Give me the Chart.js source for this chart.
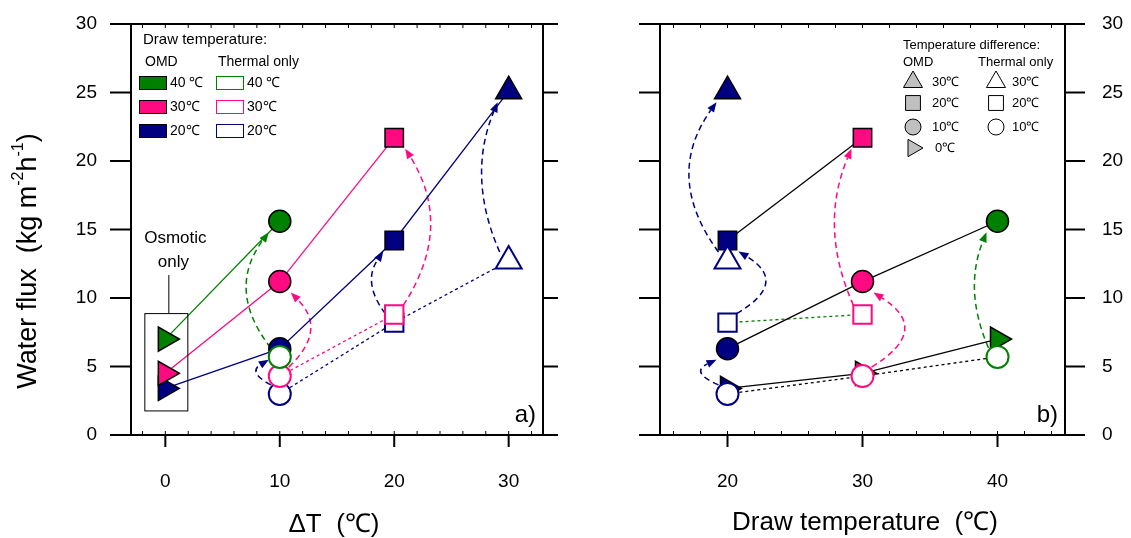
<!DOCTYPE html>
<html>
<head>
<meta charset="utf-8">
<script src="https://cdn.jsdelivr.net/npm/chart.js@4.4.1/dist/chart.umd.min.js"></script>
<style>
  html, body { margin: 0; padding: 0; background: #fff; }
  #wrap { position: relative; width: 1131px; height: 538px; }
  #wrap canvas { position: absolute; top: 0; }
</style>
</head>
<body>
<div id="wrap">
  <canvas id="chartA" width="565" height="538" style="left:0;width:565px;height:538px"></canvas>
  <canvas id="chartB" width="566" height="538" style="left:565px;width:566px;height:538px"></canvas>
</div>
<script>
// water flux (kg m-2 h-1); columns follow deltaT, rows follow draw temperature
const deltaT = [0, 10, 20, 30];
const drawTemps = [40, 30, 20];
const omd40 = [7.0, 15.6, null, null];
const omd30 = [4.5, 11.2, 21.7, null];
const omd20 = [3.4, 6.3, 14.2, 25.1];
const thermal40 = [null, 5.7, null, null];
const thermal30 = [null, 4.3, 8.8, null];
const thermal20 = [null, 3.0, 8.2, 12.7];
const xTicksA = [0, 10, 20, 30];
const xTicksB = [20, 30, 40];
const yTicks = [0, 5, 10, 15, 20, 25, 30];
const drawTempLabels = ['40 ℃', '30℃', '20℃'];
const diffKeys = [30, 20, 10, 0];
const diffLabels = ['30℃', '20℃', '10℃', '0℃'];

const omdRows = [omd40, omd30, omd20];
const thermalRows = [thermal40, thermal30, thermal20];
const FONT = '"Liberation Sans", Arial, sans-serif';
const COLORS = { 40: '#008000', 30: '#ff0a80', 20: '#000080' };
const SHAPES = {
  0: { style: 'triangle', r: 14, rot: 90 },
  10: { style: 'circle', r: 11, rot: 0 },
  20: { style: 'rect', r: 13, rot: 0 },
  30: { style: 'triangle', r: 15, rot: 0 }
};
const LEGEND_SHAPES = {
  30: { style: 'triangle', r: 11, rot: 0 },
  20: { style: 'rect', r: 10.5, rot: 0 },
  10: { style: 'circle', r: 8, rot: 0 },
  0: { style: 'triangle', r: 10, rot: 90 }
};
// how far each dashed arrow bows out (px, sign = side), keyed "drawT-deltaT"
const BEND_A = { '40-10': -32, '30-10': 29, '20-10': -21, '30-20': 35, '20-20': -21, '20-30': -26 };
const BEND_B = { '20-30': -37, '20-20': 36, '20-10': -24, '30-20': -27, '30-10': 40, '40-10': -22 };

function pts(row, t, panel) {
  const out = [];
  row.forEach((v, i) => {
    if (v !== null) out.push({ x: panel === 'a' ? deltaT[i] : t, y: v, dt: deltaT[i], t: t });
  });
  return out;
}

function lineSet(data, color, dash) {
  return { data, showLine: true, borderColor: color, borderWidth: 1.3, borderDash: dash,
    pointRadius: 0, fill: false, order: 20 };
}

function markerSet(data, open, order) {
  return {
    data, showLine: false, order,
    pointStyle: data.map(p => SHAPES[p.dt].style),
    pointRadius: data.map(p => SHAPES[p.dt].r),
    pointRotation: data.map(p => SHAPES[p.dt].rot),
    pointBackgroundColor: data.map(p => open ? '#fff' : COLORS[p.t]),
    pointBorderColor: data.map(p => open ? COLORS[p.t] : '#000'),
    pointBorderWidth: open ? 2 : 1.5
  };
}

function datasets(panel) {
  const ds = [];
  if (panel === 'a') {
    drawTemps.forEach((t, k) => {
      ds.push(lineSet(pts(omdRows[k], t, 'a'), COLORS[t], []));
      const th = pts(thermalRows[k], t, 'a');
      if (th.length > 1) ds.push(lineSet(th, COLORS[t], [3, 3]));
    });
  } else {
    deltaT.forEach((dt, i) => {
      const o = [], th = [];
      drawTemps.forEach((t, k) => {
        if (omdRows[k][i] !== null) o.push({ x: t, y: omdRows[k][i] });
        if (thermalRows[k][i] !== null) th.push({ x: t, y: thermalRows[k][i] });
      });
      o.sort((p, q) => p.x - q.x);
      th.sort((p, q) => p.x - q.x);
      if (o.length > 1) ds.push(lineSet(o, '#000', []));
      if (th.length > 1) ds.push(lineSet(th, dt === 20 ? COLORS[40] : '#000', [3, 3]));
    });
  }
  drawTemps.forEach((t, k) => ds.push(markerSet(pts(omdRows[k], t, panel), false, 10 + k)));
  drawTemps.forEach((t, k) => ds.push(markerSet(pts(thermalRows[k], t, panel), true, k)));
  return ds;
}

function seg(ctx, x1, y1, x2, y2) {
  ctx.beginPath(); ctx.moveTo(x1, y1); ctx.lineTo(x2, y2); ctx.stroke();
}

function text(ctx, s, x, y, size, align) {
  ctx.font = size + 'px ' + FONT;
  ctx.fillStyle = '#000';
  ctx.textAlign = align || 'left';
  ctx.textBaseline = 'middle';
  ctx.fillText(s, x, y);
}

function drawArrow(ctx, x, y0, y1, bend, color) {
  const side = Math.sign(bend);
  const sx = x + side * 9, sy = y0 - 9;
  const ex = x + side * 11, ey = y1 + 11;
  const cx = 2 * (x + bend) - (sx + ex) / 2, cy = (sy + ey) / 2;
  const ang = Math.atan2(ey - cy, ex - cx);
  const hl = 10, hw = 4;
  const bx = ex - hl * Math.cos(ang), by = ey - hl * Math.sin(ang);
  ctx.save();
  ctx.strokeStyle = color; ctx.fillStyle = color; ctx.lineWidth = 1.5;
  ctx.setLineDash([6, 4]);
  ctx.beginPath(); ctx.moveTo(sx, sy); ctx.quadraticCurveTo(cx, cy, bx, by); ctx.stroke();
  ctx.setLineDash([]);
  ctx.beginPath();
  ctx.moveTo(ex, ey);
  ctx.lineTo(bx + hw * Math.sin(ang), by - hw * Math.cos(ang));
  ctx.lineTo(bx - hw * Math.sin(ang), by + hw * Math.cos(ang));
  ctx.closePath(); ctx.fill();
  ctx.restore();
}

function marker(ctx, shape, x, y, fill) {
  ctx.fillStyle = fill; ctx.strokeStyle = '#000'; ctx.lineWidth = 1;
  Chart.helpers.drawPoint(ctx, { pointStyle: shape.style, radius: shape.r, rotation: shape.rot, borderWidth: 1 }, x, y);
}

function yTitle(ctx, cx, cy) {
  const parts = [['Water flux  (kg m', 0], ['-2', 1], ['h', 0], ['-1', 1], [')', 0]];
  const big = '27px ' + FONT, small = '16px ' + FONT;
  ctx.save();
  ctx.translate(cx, cy); ctx.rotate(-Math.PI / 2);
  let w = 0;
  parts.forEach(p => { ctx.font = p[1] ? small : big; w += ctx.measureText(p[0]).width; });
  let x = -w / 2;
  ctx.fillStyle = '#000'; ctx.textAlign = 'left'; ctx.textBaseline = 'middle';
  parts.forEach(p => {
    ctx.font = p[1] ? small : big;
    ctx.fillText(p[0], x, p[1] ? -10 : 0);
    x += ctx.measureText(p[0]).width;
  });
  ctx.restore();
}

function noPad(s) {
  s.paddingTop = 0; s.paddingBottom = 0; s.paddingLeft = 0; s.paddingRight = 0;
}

const framePlugin = {
  id: 'frame',
  beforeDatasetsDraw(chart, args, opts) {
    const ctx = chart.ctx, xs = chart.scales.x, ys = chart.scales.y;
    const bends = opts.panel === 'a' ? BEND_A : BEND_B;
    drawTemps.forEach((t, k) => {
      deltaT.forEach((dt, i) => {
        const from = thermalRows[k][i], to = omdRows[k][i];
        if (from === null || to === null) return;
        const x = xs.getPixelForValue(opts.panel === 'a' ? dt : t);
        drawArrow(ctx, x, ys.getPixelForValue(from), ys.getPixelForValue(to), bends[t + '-' + dt], COLORS[t]);
      });
    });
  },
  afterDatasetsDraw(chart, args, opts) {
    const ctx = chart.ctx, a = chart.chartArea, xs = chart.scales.x, ys = chart.scales.y;
    const panel = opts.panel;
    const tl = 21, tr = panel === 'a' ? 15 : 20;
    ctx.save();
    ctx.strokeStyle = '#000'; ctx.lineWidth = 2;
    seg(ctx, a.left - tl, a.top, a.right + tr, a.top);
    seg(ctx, a.left - tl, a.bottom, a.right + tr, a.bottom);
    seg(ctx, a.left, a.top, a.left, a.bottom);
    seg(ctx, a.right, a.top, a.right, a.bottom);
    yTicks.forEach(v => {
      const y = ys.getPixelForValue(v);
      seg(ctx, a.left - tl, y, a.left, y);
      seg(ctx, a.right, y, a.right + tr, y);
    });
    (panel === 'a' ? xTicksA : xTicksB).forEach(v => {
      const x = xs.getPixelForValue(v);
      seg(ctx, x, a.bottom, x, a.bottom + 12);
    });
    ctx.lineWidth = 1;
    for (let v = Math.ceil(xs.min / 2) * 2; v < xs.max; v += 2) {
      const x = xs.getPixelForValue(v);
      seg(ctx, x, a.bottom, x, a.bottom - 4);
      seg(ctx, x, a.top, x, a.top + 4);
    }

    const L = a.left, T = a.top;
    if (panel === 'a') {
      yTitle(ctx, 29, 261);
      text(ctx, 'ΔT  (℃)', 334, 525, 26, 'center');
      text(ctx, 'a)', a.right - 7, a.bottom - 20, 24, 'right');
      // draw temperature legend
      text(ctx, 'Draw temperature:', L + 12, T + 16, 15);
      text(ctx, 'OMD', L + 14, T + 38, 14);
      text(ctx, 'Thermal only', L + 87, T + 38, 14);
      drawTemps.forEach((t, k) => {
        const y = T + 59 + k * 24;
        ctx.fillStyle = COLORS[t];
        ctx.fillRect(L + 8, y - 7, 28, 14);
        ctx.strokeStyle = '#000'; ctx.lineWidth = 1;
        ctx.strokeRect(L + 8.5, y - 6.5, 27, 13);
        text(ctx, drawTempLabels[k], L + 39, y, 14);
        ctx.strokeStyle = COLORS[t];
        ctx.strokeRect(L + 85.5, y - 6.5, 27, 13);
        text(ctx, drawTempLabels[k], L + 116, y, 14);
      });
      // osmotic only callout around the deltaT = 0 points
      const x0 = xs.getPixelForValue(0);
      const top = ys.getPixelForValue(omd40[0]) - 26, bottom = ys.getPixelForValue(omd20[0]) + 22;
      ctx.strokeStyle = '#000'; ctx.lineWidth = 1;
      ctx.strokeRect(x0 - 20.5, top + 0.5, 43, bottom - top);
      seg(ctx, x0 + 3.5, top, x0 + 3.5, top - 38);
      text(ctx, 'Osmotic', x0 + 10, top - 75, 17, 'center');
      text(ctx, 'only', x0 + 8, top - 51, 17, 'center');
    } else {
      text(ctx, 'Draw temperature  (℃)', 300, 523, 26, 'center');
      text(ctx, 'b)', a.right - 7, a.bottom - 20, 24, 'right');
      text(ctx, 'Temperature difference:', L + 243, T + 21, 13);
      text(ctx, 'OMD', L + 243, T + 38, 13);
      text(ctx, 'Thermal only', L + 318, T + 38, 13);
      const rowsY = [58, 79, 103, 124];
      diffKeys.forEach((d, k) => {
        const y = T + rowsY[k];
        marker(ctx, LEGEND_SHAPES[d], L + 253, y, '#c0c0c0');
        text(ctx, diffLabels[k], L + (d === 0 ? 275 : 272), y, 13);
        if (d > 0) {
          marker(ctx, LEGEND_SHAPES[d], L + 336, y, '#fff');
          text(ctx, diffLabels[k], L + 352, y, 13);
        }
      });
    }
    ctx.restore();
  }
};

function makeChart(id, panel, xMin, xMax, xTicks) {
  const tickFont = { family: FONT, size: 19 };
  return new Chart(document.getElementById(id), {
    type: 'scatter',
    data: { datasets: datasets(panel) },
    options: {
      responsive: false,
      devicePixelRatio: 1,
      animation: false,
      events: [],
      layout: { padding: panel === 'a' ? { top: 24, right: 22, left: 0, bottom: 0 } : { top: 24, right: 0, left: 95, bottom: 0 } },
      plugins: { legend: { display: false }, tooltip: { enabled: false }, frame: { panel } },
      scales: {
        x: {
          type: 'linear', position: 'bottom', min: xMin, max: xMax,
          afterBuildTicks: s => { s.ticks = xTicks.map(v => ({ value: v })); },
          afterFit: s => { s.height = 103; noPad(s); },
          grid: { display: false, drawTicks: false },
          border: { display: false },
          ticks: { font: tickFont, color: '#000', padding: 35 }
        },
        y: {
          type: 'linear', position: panel === 'a' ? 'left' : 'right', min: 0, max: 30,
          afterBuildTicks: s => { s.ticks = yTicks.map(v => ({ value: v })); },
          afterFit: s => { s.width = panel === 'a' ? 131 : 66; noPad(s); },
          grid: { display: false, drawTicks: false },
          border: { display: false },
          ticks: { font: tickFont, color: '#000', padding: panel === 'a' ? 34 : 37 }
        }
      }
    },
    plugins: [framePlugin]
  });
}

makeChart('chartA', 'a', -3, 33, xTicksA);
makeChart('chartB', 'b', 15, 45, xTicksB);
</script>
</body>
</html>
